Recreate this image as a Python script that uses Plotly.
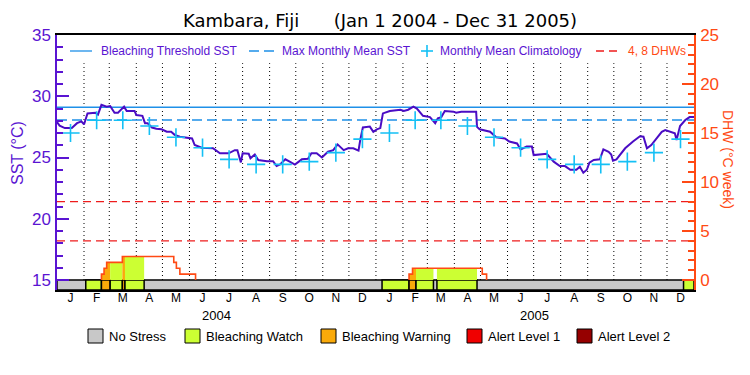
import plotly.graph_objects as go
import pandas as pd

# ---------------- data ----------------
start = pd.Timestamp("2004-01-01")
end = pd.Timestamp("2006-01-01")

# daily SST (days since 2004-01-01, degC)
sst_day = [0, 3, 9, 17, 23, 28, 31, 35, 44, 47, 51, 57, 61, 66, 70, 77, 80, 89, 91, 98,
           101, 104, 109, 114, 120, 126, 131, 135, 141, 149, 155, 158, 166, 179, 187, 197,
           204, 207, 211, 213, 220, 222, 227, 231, 241, 248, 252, 256, 262, 267, 273, 281,
           288, 292, 298, 304, 311, 317, 322, 329, 334, 340, 346, 348, 351, 359, 363, 367,
           371, 374, 382, 394, 398, 403, 409, 413, 420, 428, 434, 437, 441, 445, 455, 458,
           464, 481, 482, 485, 497, 504, 514, 519, 528, 532, 539, 545, 547, 562, 566, 570,
           577, 583, 589, 596, 600, 604, 608, 611, 616, 623, 627, 633, 636, 638, 642, 652,
           661, 669, 673, 677, 682, 688, 694, 698, 703, 709, 711, 715, 721, 726, 731]
sst_val = [27.9, 27.6, 27.4, 27.4, 27.8, 27.95, 27.7, 28.6, 28.65, 28.5, 29.3, 29.15, 29.2,
           28.65, 28.65, 29.15, 28.8, 28.8, 28.47, 28.4, 27.8, 27.8, 27.45, 27.35, 27.3, 27.1,
           27.1, 26.85, 26.7, 26.6, 26.56, 26.02, 25.8, 25.75, 25.34, 25.34, 25.6, 25.6, 24.6,
           25.34, 25.3, 24.93, 25.25, 24.8, 24.7, 24.7, 24.3, 24.44, 24.85, 24.66, 24.42,
           24.85, 24.9, 25.34, 25.34, 25.0, 25.47, 25.6, 26.07, 25.6, 25.75, 25.75, 25.56,
           26.43, 27.45, 27.52, 27.1, 27.3, 27.4, 28.6, 28.8, 28.9, 28.8, 28.9, 29.15, 29.0,
           28.4, 28.3, 27.8, 28.2, 28.3, 28.8, 28.74, 28.65, 28.74, 28.74, 27.5, 27.3, 27.1,
           26.65, 26.56, 26.3, 26.15, 25.66, 25.9, 25.9, 25.2, 25.3, 24.93, 24.66, 24.3, 24.3,
           24.0, 24.0, 24.25, 23.76, 24.0, 24.58, 24.8, 24.85, 25.66, 25.47, 25.25, 24.74,
           24.85, 25.75, 26.3, 26.74, 26.7, 25.75, 26.02, 26.56, 27.1, 27.24, 27.1, 26.97,
           26.43, 27.57, 28.06, 28.3, 28.3]

# monthly mean climatology (Jan..Dec, degC), repeated each year
clim_val = [27.0, 28.04, 28.04, 27.57, 26.65, 25.8, 24.85, 24.44, 24.44, 24.66, 25.4, 26.5]

bleaching_threshold = 29.1
max_monthly_mean = 28.06
dhw_ref_lines = [4, 8]

# degree heating weeks (step changes: day, new value)
dhw_day = [51, 54, 57, 75, 134, 137, 141, 159, 404, 408, 488, 493]
dhw_val = [0.6, 1.2, 1.8, 2.4, 1.8, 1.2, 0.6, 0, 0.6, 1.2, 0.6, 0]

# stress-level periods (start day, end day, level)
stress_start = [33, 51, 61, 75, 78, 373, 404, 412, 436, 719]
stress_end = [51, 61, 75, 78, 100, 404, 412, 432, 482, 731]
stress_level = [1, 2, 1, 2, 1, 1, 2, 1, 1, 1]

month_letters = ["J", "F", "M", "A", "M", "J", "J", "A", "S", "O", "N", "D"]
years = [2004, 2005]
level_names = ["No Stress", "Bleaching Watch", "Bleaching Warning", "Alert Level 1", "Alert Level 2"]
level_colors = ["#C8C8C8", "#CCFF33", "#FAAA0A", "#F00000", "#960000"]

# ---------------- styling ----------------
PURPLE = "#5A14D2"
LINEPURPLE = "#4A0CC4"
ORANGE = "#FF4A14"
RED = "#EE1C1C"
BLUE = "#1E90E8"
CYAN = "#14C0F5"
FONT = "Liberation Sans"

# the page body adds an 8px offset; size the figure so the plot area lands at
# x 57..694, y 35..290 of the 750x375 window
OFF = 8
FIG_W, FIG_H = 750 - OFF, 375 - OFF


def day_to_date(d):
    return start + pd.to_timedelta(d, unit="D")


def dhw_at(t):
    v = 0.0
    for d, val in zip(dhw_day, dhw_val):
        if d <= t:
            v = val
    return v


fig = go.Figure()

# --- DHW fill coloured by stress level ---
for s, e, lev in zip(stress_start, stress_end, stress_level):
    changes = [d for d in dhw_day if s < d < e]
    xs, ys = [s, s], [0, dhw_at(s)]
    for c in changes:
        xs += [c, c]
        ys += [dhw_at(c - 1e-6), dhw_at(c)]
    xs += [e, e]
    ys += [dhw_at(e - 1e-6), 0]
    if max(ys) <= 0:
        continue
    fig.add_trace(go.Scatter(x=[day_to_date(v) for v in xs], y=ys, yaxis="y2",
                             mode="lines", line=dict(width=0), fill="toself",
                             fillcolor=level_colors[lev], hoverinfo="skip"))

# --- DHW line ---
dx, dy = [], []
for i, (d, v) in enumerate(zip(dhw_day, dhw_val)):
    if v > 0 and (i == 0 or dhw_val[i - 1] == 0):
        dx.append(day_to_date(d)); dy.append(0)
    dx.append(day_to_date(d)); dy.append(v)
    if v == 0:
        dx.append(None); dy.append(None)
fig.add_trace(go.Scatter(x=dx, y=dy, yaxis="y2", mode="lines", line_shape="hv",
                         line=dict(color=ORANGE, width=1.6), connectgaps=False))

# --- DHW reference lines ---
for lv in dhw_ref_lines:
    fig.add_trace(go.Scatter(x=[start, end], y=[lv, lv], yaxis="y2", mode="lines",
                             line=dict(color=RED, width=1.3, dash="8px,5px")))

# --- thresholds ---
fig.add_trace(go.Scatter(x=[start, end], y=[bleaching_threshold] * 2, mode="lines",
                         line=dict(color=BLUE, width=1.3)))
fig.add_trace(go.Scatter(x=[start, end], y=[max_monthly_mean] * 2, mode="lines",
                         line=dict(color=BLUE, width=1.5, dash="10px,5px")))

# --- SST ---
fig.add_trace(go.Scatter(x=[day_to_date(d) for d in sst_day], y=sst_val, mode="lines",
                         line=dict(color=LINEPURPLE, width=2)))

# --- climatology ---
month_starts = pd.date_range(start, periods=24, freq="MS")
mid_months = [m + (m + pd.offsets.MonthBegin(1) - m) / 2 for m in month_starts]
fig.add_trace(go.Scatter(x=mid_months, y=clim_val * len(years), mode="markers",
                         marker=dict(symbol="cross-thin", size=13,
                                     line=dict(color=CYAN, width=1.6))))

shapes = []
# dotted month boundaries
for m in month_starts[1:]:
    shapes.append(dict(type="line", xref="x", yref="y", x0=m, x1=m, y0=15, y1=32.7,
                       line=dict(color="black", width=1, dash="1px,3px"), layer="below"))

# stress bar
bar_lo = 15 - 10 / 12.25
shapes.append(dict(type="rect", xref="x", yref="y", x0=start, x1=end, y0=bar_lo, y1=15,
                   fillcolor=level_colors[0], line=dict(color="black", width=1.5), layer="below"))
for s, e, lev in zip(stress_start, stress_end, stress_level):
    shapes.append(dict(type="rect", xref="x", yref="y", x0=day_to_date(s), x1=day_to_date(e),
                       y0=bar_lo, y1=15, fillcolor=level_colors[lev],
                       line=dict(color="black", width=1.5), layer="below"))

annotations = []


def px_x(x):
    return (x - 57) / 637


def px_y(y):
    return (290 - y) / 255


# top legend
ly = 51
shapes.append(dict(type="line", xref="paper", yref="paper", x0=px_x(70), x1=px_x(92),
                   y0=px_y(ly), y1=px_y(ly), line=dict(color=BLUE, width=1.3)))
shapes.append(dict(type="line", xref="paper", yref="paper", x0=px_x(249), x1=px_x(274),
                   y0=px_y(ly), y1=px_y(ly), line=dict(color=BLUE, width=1.5, dash="10px,5px")))
shapes.append(dict(type="line", xref="paper", yref="paper", x0=px_x(421), x1=px_x(433),
                   y0=px_y(ly), y1=px_y(ly), line=dict(color=CYAN, width=1.6)))
shapes.append(dict(type="line", xref="paper", yref="paper", x0=px_x(427), x1=px_x(427),
                   y0=px_y(ly - 6), y1=px_y(ly + 6), line=dict(color=CYAN, width=1.6)))
shapes.append(dict(type="line", xref="paper", yref="paper", x0=px_x(596), x1=px_x(621),
                   y0=px_y(ly), y1=px_y(ly), line=dict(color=RED, width=1.3, dash="8px,5px")))
for tx, txt, col in [(99, "Bleaching Threshold SST", PURPLE), (280, "Max Monthly Mean SST", PURPLE),
                     (438, "Monthly Mean Climatology", PURPLE), (626, "4, 8 DHWs", ORANGE)]:
    annotations.append(dict(xref="paper", yref="paper", x=px_x(tx), y=px_y(ly), text=txt,
                            showarrow=False, xanchor="left", yanchor="middle",
                            font=dict(family=FONT, size=12, color=col)))

# bottom legend
box_x = [88, 185, 321, 467, 577]
for bx, name, col in zip(box_x, level_names, level_colors):
    shapes.append(dict(type="rect", xref="paper", yref="paper", x0=px_x(bx), x1=px_x(bx + 15),
                       y0=px_y(343), y1=px_y(329), fillcolor=col, line=dict(color="black", width=1)))
    annotations.append(dict(xref="paper", yref="paper", x=px_x(bx + 19), y=px_y(336), text=name,
                            showarrow=False, xanchor="left", yanchor="middle",
                            font=dict(family=FONT, size=13, color="black")))

# year labels
for yr in years:
    annotations.append(dict(xref="x", yref="paper", x=pd.Timestamp(f"{yr}-07-02"), y=px_y(315),
                            text=str(yr), showarrow=False, yanchor="middle",
                            font=dict(family=FONT, size=13, color="black")))

# axis titles
annotations.append(dict(xref="paper", yref="paper", x=px_x(17), y=px_y(153), text="SST (°C)",
                        textangle=-90, showarrow=False, xanchor="center", yanchor="middle",
                        font=dict(family=FONT, size=16, color=PURPLE)))
annotations.append(dict(xref="paper", yref="paper", x=px_x(728), y=px_y(160), text="DHW (°C week)",
                        textangle=90, showarrow=False, xanchor="center", yanchor="middle",
                        font=dict(family=FONT, size=14, color=ORANGE)))

fig.update_layout(
    width=FIG_W, height=FIG_H,
    margin=dict(l=57 - OFF, r=FIG_W - (694 - OFF), t=35 - OFF, b=FIG_H - (290 - OFF)),
    plot_bgcolor="white", paper_bgcolor="white",
    showlegend=False,
    font=dict(family=FONT),
    title=dict(text="Kambara, Fiji&nbsp;&nbsp;&nbsp;&nbsp;&nbsp;&nbsp;(Jan 1 2004 - Dec 31 2005)",
               x=(380 - OFF) / FIG_W, xanchor="center", y=1 - (21 - OFF) / FIG_H, yanchor="middle",
               font=dict(family="DejaVu Sans", size=18, color="black")),
    xaxis=dict(type="date", range=[start, end], showgrid=False, zeroline=False,
               showline=True, linecolor="black", linewidth=1.5, mirror=True,
               ticks="", tickmode="array", tickvals=mid_months,
               ticktext=month_letters * len(years), ticklabelstandoff=-4,
               tickfont=dict(family=FONT, size=12, color="black")),
    yaxis=dict(range=[bar_lo, 35], showgrid=False, zeroline=False,
               showline=True, linecolor=PURPLE, linewidth=1.5,
               tickmode="array", tickvals=[15, 20, 25, 30, 35],
               ticks="inside", ticklen=12, tickwidth=1.5, tickcolor=PURPLE,
               tickfont=dict(family=FONT, size=17, color=PURPLE), ticklabelstandoff=1,
               minor=dict(tickmode="array", tickvals=list(range(15, 36)), ticks="inside",
                          ticklen=6, tickwidth=1.5, tickcolor=PURPLE, showgrid=False)),
    yaxis2=dict(overlaying="y", side="right", range=[-10 / 9.8, 25], showgrid=False,
                zeroline=False, showline=True, linecolor=ORANGE, linewidth=1.5,
                tickmode="array", tickvals=[0, 5, 10, 15, 20, 25],
                ticks="inside", ticklen=12, tickwidth=1.5, tickcolor=ORANGE,
                tickfont=dict(family=FONT, size=17, color=ORANGE), ticklabelstandoff=1,
                minor=dict(tickmode="array", tickvals=list(range(0, 26)), ticks="inside",
                           ticklen=6, tickwidth=1.5, tickcolor=ORANGE, showgrid=False)),
    shapes=shapes,
    annotations=annotations,
)

fig.write_html("out.html")
